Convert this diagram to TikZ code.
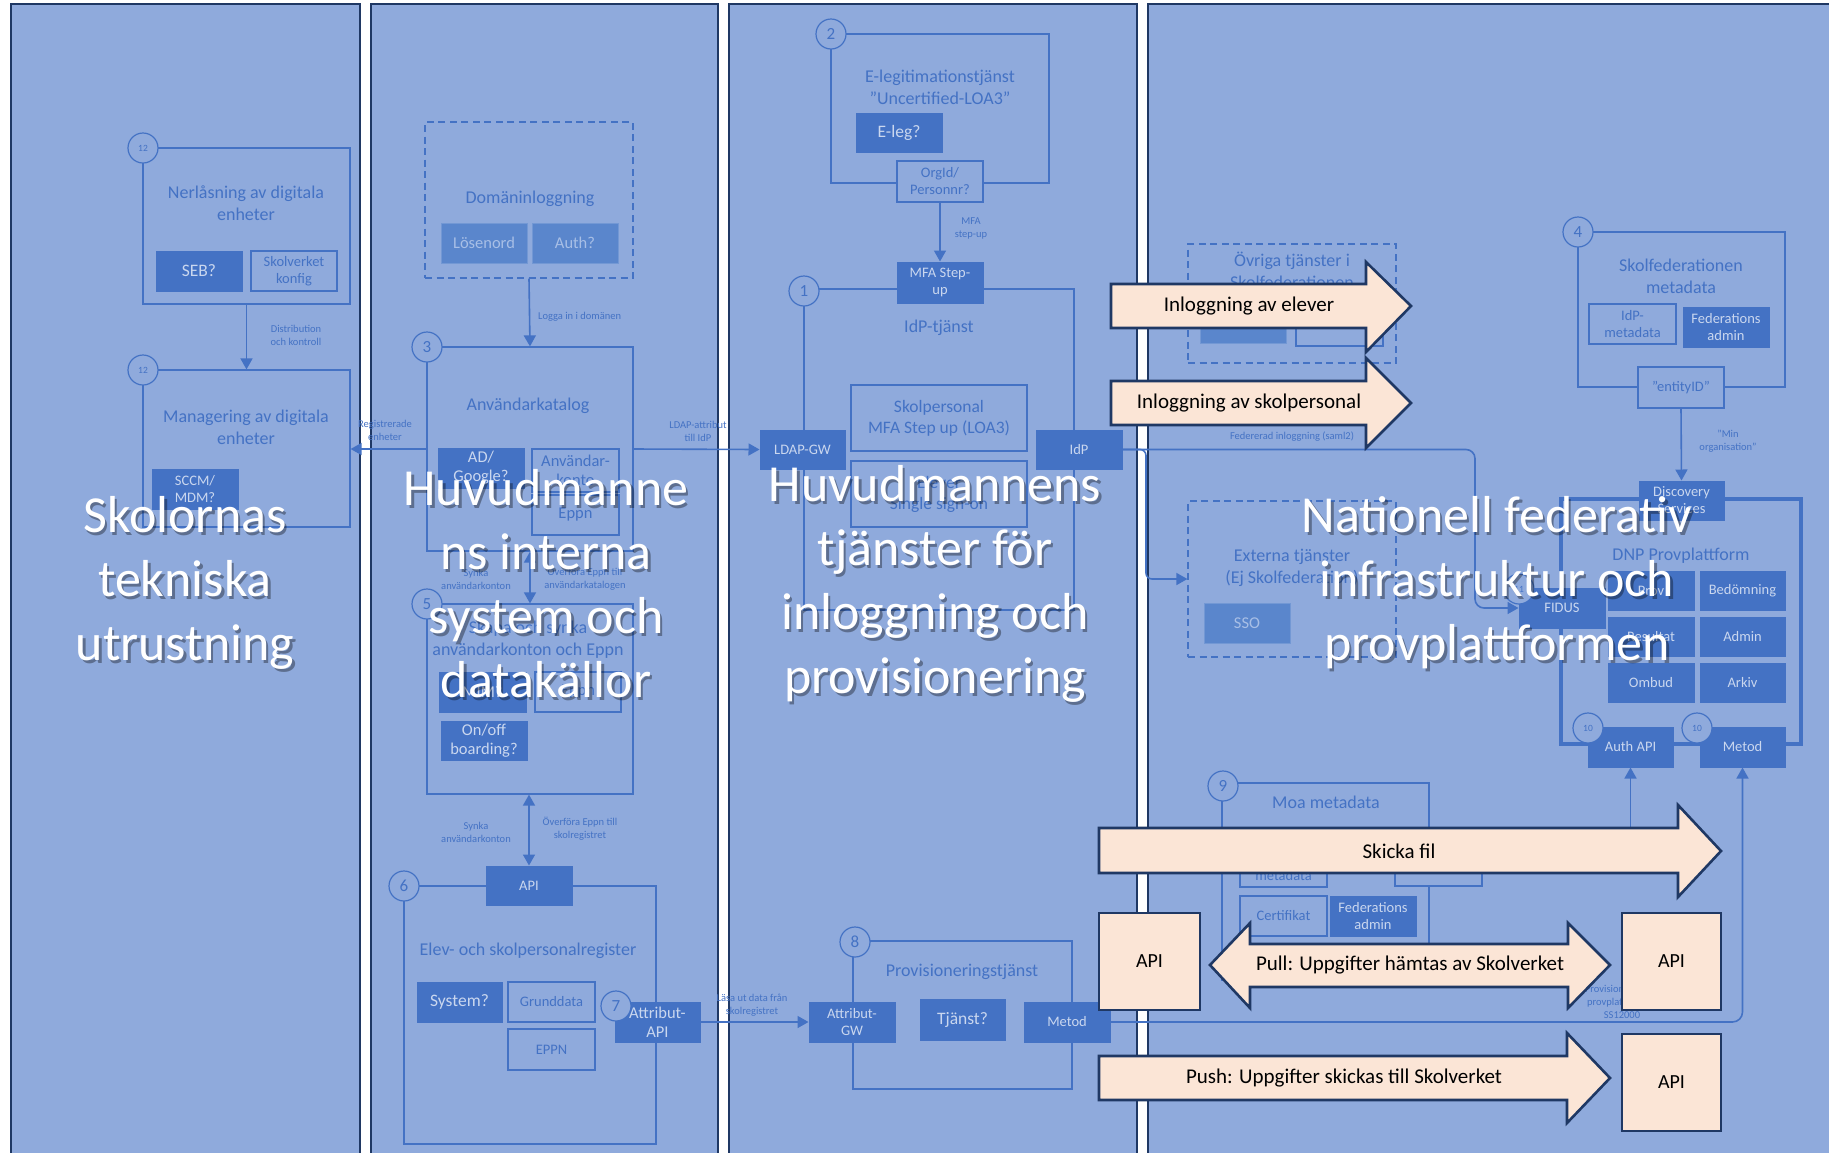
\documentclass[tikz,border=0pt]{standalone}
\usepackage{fontspec}
\setmainfont{Carlito}
\usetikzlibrary{arrows.meta}
\definecolor{colfill}{HTML}{8FAADC}
\definecolor{navy}{HTML}{1F3864}
\definecolor{bl}{HTML}{4472C4}
\definecolor{ftext}{HTML}{CAD7EF}
\definecolor{lfill}{HTML}{5A86CC}
\definecolor{ltext}{HTML}{A8BFE6}
\definecolor{peach}{HTML}{FBE5D6}
\newcommand{\fs}[2]{\fontsize{#1}{#2}\selectfont}
\newcommand{\bxn}[7]{\node[#1, minimum width={#5-#3}, minimum height={#6-#4}] (#2) at ({(#3+#5)/2},{(#4+#6)/2}) {#7};}
\newcommand{\bigtxt}[4]{\node[bigs] (#1s) at (#2+2.5,#3+2.5) {#4}; \node[bigw] (#1) at (#2,#3) {#4};}
\tikzset{
 colbox/.style={fill=colfill, draw=navy, line width=2.6pt},
 cont/.style={draw=bl, line width=1.2pt, inner sep=0pt},
 dcont/.style={cont, dash pattern=on 7pt off 4.5pt},
 dnpbox/.style={draw=bl, line width=4pt, inner sep=0pt},
 obox/.style={draw=bl, fill=colfill, line width=1.2pt, text=bl, align=center, inner sep=0pt, font=\fs{14.5}{17}},
 fbox/.style={draw=bl, fill=bl, line width=1pt, text=ftext, align=center, inner sep=0pt, font=\fs{14.5}{17}},
 lbox/.style={draw=lfill!85!white, fill=lfill, line width=1pt, text=ltext, align=center, inner sep=0pt, font=\fs{16.5}{19}},
 bigt/.style={font=\fs{16.5}{19}},
 hugt/.style={font=\fs{17.5}{21}},
 num/.style={circle, draw=bl, fill=colfill, line width=1.2pt, minimum size=30pt, inner sep=0pt, text=bl, font=\fs{17}{17}},
 snum/.style={num, font=\fs{9.5}{10}},
 ttl/.style={text=bl, align=center, font=\fs{18}{22}, inner sep=0pt},
 lbl/.style={text=bl, align=center, font=\fs{10.5}{13}, inner sep=0pt},
 conn/.style={draw=bl, line width=1.6pt, -{Triangle[length=11pt,width=12pt]}},
 dconn/.style={draw=bl, line width=1.6pt, {Triangle[length=11pt,width=12pt]}-{Triangle[length=11pt,width=12pt]}},
 pshape/.style={fill=peach, draw=navy, line width=2.6pt, line join=miter},
 ptxt/.style={text=black, font=\fs{21}{24}, inner sep=0pt},
 apibox/.style={pshape, font=\fs{20}{24}, text=black, inner sep=0pt},
 bigw/.style={text=white, align=center, font=\fs{52}{64}, inner sep=0pt},
 bigs/.style={text=black, opacity=0.35, align=center, font=\fs{52}{64}, inner sep=0pt},
}
\begin{document}
\begin{tikzpicture}[x=1pt,y=-1pt]
\useasboundingbox (0,0) rectangle (1829,1152);
\fill[white] (0,0) rectangle (1829,1152);
% columns
\draw[colbox] (11,4) rectangle (360,1175);
\draw[colbox] (371,4) rectangle (718,1175);
\draw[colbox] (729,4) rectangle (1137,1175);
\draw[colbox] (1148,1175) -- (1148,4) -- (1845,4) -- (1845,1175) -- cycle;

% ---------- column 1
\bxn{cont}{b12a}{143}{148}{350}{304}{}
\node[ttl] (t12a) at (246,203) {Nerlåsning av digitala\\enheter};
\bxn{fbox,hugt}{seb}{156}{251}{242}{291}{SEB?}
\bxn{obox}{skv}{251}{251}{337}{291}{Skolverket\\konfig}
\node[snum] (c12a) at (143,148) {12};
\bxn{cont}{b12b}{143}{370}{350}{527}{}
\node[ttl] (t12b) at (246,427) {Managering av digitala\\enheter};
\bxn{fbox}{sccm}{152}{469}{238}{509}{SCCM/\\MDM?}
\node[snum] (c12b) at (143,370) {12};

% ---------- column 2
\bxn{dcont}{dom}{425}{122}{633}{278}{}
\node[ttl] (tdom) at (530,199) {Domäninloggning};
\bxn{lbox}{los}{441}{223}{527}{263}{Lösenord}
\bxn{lbox}{auth}{532}{223}{618}{263}{Auth?}
\bxn{cont}{k3}{427}{347}{633}{551}{}
\node[ttl] (t3) at (528,406) {Användarkatalog};
\bxn{fbox,bigt}{adg}{438}{448}{524}{488}{AD/\\Google?}
\bxn{obox,bigt}{akonto}{532}{449}{619}{492}{Användar-\\konto}
\bxn{obox,bigt}{eppn1}{532}{495}{619}{535}{Eppn}
\node[num] (c3) at (427,347) {3};
\bxn{cont}{k5}{427}{604}{633}{794}{}
\node[ttl] (t5) at (528,640) {Skapa och synka\\användarkonton och Eppn};
\bxn{fbox,bigt}{mim}{439}{672}{526}{712}{MIM?}
\bxn{obox,bigt}{eppn2}{535}{672}{621}{712}{Eppn}
\bxn{fbox,bigt}{onoff}{441}{721}{527}{760}{On/off\\boarding?}
\node[num] (c5) at (427,604) {5};
\bxn{cont}{k6}{404}{886}{656}{1144}{}
\bxn{fbox}{api}{486}{866}{572}{905}{API}
\node[ttl] (t6) at (528,951) {Elev- och skolpersonalregister};
\bxn{fbox,hugt}{sys}{417}{982}{502}{1022}{System?}
\bxn{obox}{grund}{508}{982}{595}{1022}{Grunddata}
\bxn{obox}{eppn3}{508}{1029}{595}{1070}{EPPN}
\bxn{fbox,bigt}{attapi}{615}{1002}{700}{1042}{Attribut-\\API}
\node[num] (c6) at (404,886) {6};
\node[num] (c7) at (616,1006) {7};

% ---------- column 3
\bxn{cont}{k2}{831}{34}{1049}{183}{}
\node[ttl] (t2) at (940,87) {E-legitimationstjänst\\”Uncertified-LOA3"};
\bxn{fbox,hugt}{eleg}{856}{113}{942}{152}{E-leg?}
\bxn{obox}{orgid}{897}{161}{983}{202}{OrgId/\\Personnr?}
\node[num] (c2) at (831,34) {2};
\bxn{cont}{k1}{804}{289}{1074}{610}{}
\bxn{fbox}{mfa}{897}{262}{983}{303}{MFA Step-\\up}
\node[ttl] (t1) at (939,328) {IdP-tjänst};
\bxn{obox,hugt}{skp}{851}{385}{1027}{451}{Skolpersonal\\MFA Step up (LOA3)}
\bxn{obox,hugt}{elv}{851}{461}{1027}{527}{Elever\\Single sign-on}
\bxn{fbox}{ldap}{760}{430}{845}{469}{LDAP-GW}
\bxn{fbox}{idp}{1036}{430}{1122}{469}{IdP}
\node[num] (c1) at (804,291) {1};
\bxn{cont}{k8}{853}{941}{1072}{1089}{}
\node[ttl] (t8) at (962,972) {Provisioneringstjänst};
\bxn{fbox}{attgw}{809}{1002}{895}{1042}{Attribut-\\GW}
\bxn{fbox,hugt}{tjanst}{920}{999}{1005}{1040}{Tjänst?}
\bxn{fbox}{metod3}{1024}{1002}{1110}{1042}{Metod}
\node[num] (c8) at (855,942) {8};

% ---------- column 4
\bxn{dcont}{ovr}{1188}{244}{1396}{363}{}
\node[ttl] (tovr) at (1292,270) {Övriga tjänster i\\Skolfederationen};
\bxn{lbox}{ovr1}{1200}{303}{1286}{343}{}
\bxn{obox}{ovr2}{1296}{303}{1383}{346}{}
\bxn{dcont}{ext}{1188}{501}{1396}{657}{}
\node[ttl] (text) at (1292,568) {Externa tjänster\\(Ej Skolfederation)};
\bxn{lbox}{sso}{1204}{603}{1290}{643}{SSO}
\bxn{cont}{k4}{1578}{232}{1785}{387}{}
\node[ttl] (t4) at (1681,276) {Skolfederationen\\metadata};
\bxn{obox}{idpmeta}{1589}{304}{1676}{344}{IdP-\\metadata}
\bxn{fbox}{fedadm1}{1683}{307}{1769}{347}{Federations\\admin}
\bxn{obox}{entity}{1638}{367}{1724}{408}{”entityID”}
\node[num] (c4) at (1578,232) {4};
\bxn{dnpbox}{dnp}{1561}{499}{1801}{744}{}
\bxn{fbox}{disc}{1639}{481}{1724}{520}{Discovery\\Services}
\node[ttl] (tdnp) at (1681,556) {DNP Provplattform};
\bxn{fbox}{prov}{1608}{571}{1694}{610}{Prov}
\bxn{fbox}{bed}{1700}{571}{1785}{610}{Bedömning}
\bxn{fbox}{res}{1608}{617}{1694}{656}{Resultat}
\bxn{fbox}{adm}{1700}{617}{1785}{656}{Admin}
\bxn{fbox}{omb}{1608}{663}{1694}{702}{Ombud}
\bxn{fbox}{ark}{1700}{663}{1785}{702}{Arkiv}
\bxn{fbox}{fidus}{1519}{588}{1605}{628}{FIDUS}
\node[snum] (c11) at (1519,589) {11};
\bxn{fbox}{authapi}{1588}{727}{1673}{767}{Auth API}
\bxn{fbox}{metod4}{1700}{727}{1785}{767}{Metod}
\node[snum] (c10a) at (1588,728) {10};
\node[snum] (c10b) at (1697,728) {10};
\bxn{cont}{k9}{1222}{783}{1429}{980}{}
\node[ttl] (t9) at (1326,802) {Moa metadata};
\bxn{obox}{moameta}{1240}{847}{1327}{887}{IdP-\\metadata}
\bxn{obox}{moa2}{1395}{847}{1482}{886}{}
\bxn{obox}{cert}{1240}{896}{1327}{936}{Certifikat}
\bxn{fbox}{fedadm2}{1330}{896}{1416}{936}{Federations\\admin}
\node[num] (c9) at (1223,786) {9};

% ---------- connectors
\draw[conn] (b12a.south) -- (b12b.north);
\draw[conn] (k3.west) -- (k3.west -| b12b.east);
\draw[conn] (dom.south) -- (k3.north);
\draw[conn] (k3.east) -- (ldap.west);
\draw[dconn] (k3.south) -- (k5.north);
\draw[dconn] (api.north |- k5.south) -- (api.north);
\draw[conn] (attapi.east) -- (attgw.west);
\draw[conn] (orgid.south) -- (mfa.north);
\draw[conn, rounded corners=9pt] (idp.east) -- (1475,449.5) -- (1475,608) -- (fidus.west);
\draw[conn, rounded corners=6pt] (idp.east) -- (1146,449.5) -- (1146,579) -- (ext.west);
\draw[conn] (entity.south) -- (disc.north);
\draw[conn, rounded corners=10pt] (metod3.east) -- (1742.5,1022) -- (metod4.south);
\coordinate (authsrc) at (1630.5,850);
\draw[conn] (authsrc) -- (authapi.south);

% ---------- labels
\node[lbl] (l1) at (296,335.5) {Distribution\\och kontroll};
\node[lbl] (l2) at (385,430) {Registrerade\\enheter};
\node[lbl, anchor=west] (l3) at (538,317) {Logga in i domänen};
\node[lbl] (l4) at (698,431) {LDAP-attribut\\till IdP};
\node[lbl] (l5) at (476,579) {Synka\\användarkonton};
\node[lbl] (l6) at (585,579) {Överföra Eppn till\\användarkatalogen};
\node[lbl] (l7) at (476,832) {Synka\\användarkonton};
\node[lbl] (l8) at (580,829) {Överföra Eppn till\\skolregistret};
\node[lbl] (l9) at (752,1005) {Läsa ut data från\\skolregistret};
\node[lbl] (l10) at (971,228) {MFA\\step-up};
\node[lbl] (l11) at (1292,437) {Federerad inloggning (saml2)};
\node[lbl] (l12) at (1728,441) {”Min\\organisation”};
\node[lbl] (l13) at (1622,1002) {Provisionering till\\provplattformen\\SS12000};

% ---------- peach arrows and API boxes
\draw[pshape] (1111,284) -- (1366,284) -- (1366,262) -- (1411,306) -- (1366,352) -- (1366,328) -- (1111,328) -- cycle;
\node[ptxt] (p1) at (1249,306) {Inloggning av elever};
\draw[pshape] (1111,381) -- (1366,381) -- (1366,358) -- (1411,403) -- (1366,448) -- (1366,425) -- (1111,425) -- cycle;
\node[ptxt] (p2) at (1249,403) {Inloggning av skolpersonal};
\draw[pshape] (1099,828) -- (1678,828) -- (1678,805) -- (1721,851) -- (1678,897) -- (1678,873) -- (1099,873) -- cycle;
\node[ptxt] (p3) at (1399,851) {Skicka fil};
\draw[pshape] (1210,965) -- (1250,923) -- (1250,944) -- (1568,944) -- (1568,923) -- (1610,965) -- (1568,1008) -- (1568,987) -- (1250,987) -- (1250,1008) -- cycle;
\node[ptxt] (p4) at (1410,965) {Pull: Uppgifter hämtas av Skolverket};
\draw[pshape] (1099,1056) -- (1567,1056) -- (1567,1033) -- (1610,1078) -- (1567,1123) -- (1567,1100) -- (1099,1100) -- cycle;
\node[ptxt] (p5) at (1344,1078) {Push: Uppgifter skickas till Skolverket};
\bxn{apibox}{apiL}{1099}{913}{1200}{1010}{API}
\bxn{apibox}{apiR1}{1622}{913}{1721}{1010}{API}
\bxn{apibox}{apiR2}{1622}{1034}{1721}{1131}{API}

% ---------- big titles
\bigtxt{g1}{185}{583}{Skolornas\\tekniska\\utrustning}
\bigtxt{g2}{546}{584}{Huvudmanne\\ns interna\\system och\\datakällor}
\bigtxt{g3}{935}{584}{Huvudmannens\\tjänster för\\inloggning och\\provisionering}
\bigtxt{g4}{1497}{583}{Nationell federativ\\infrastruktur och\\provplattformen}
\end{tikzpicture}
\end{document}
